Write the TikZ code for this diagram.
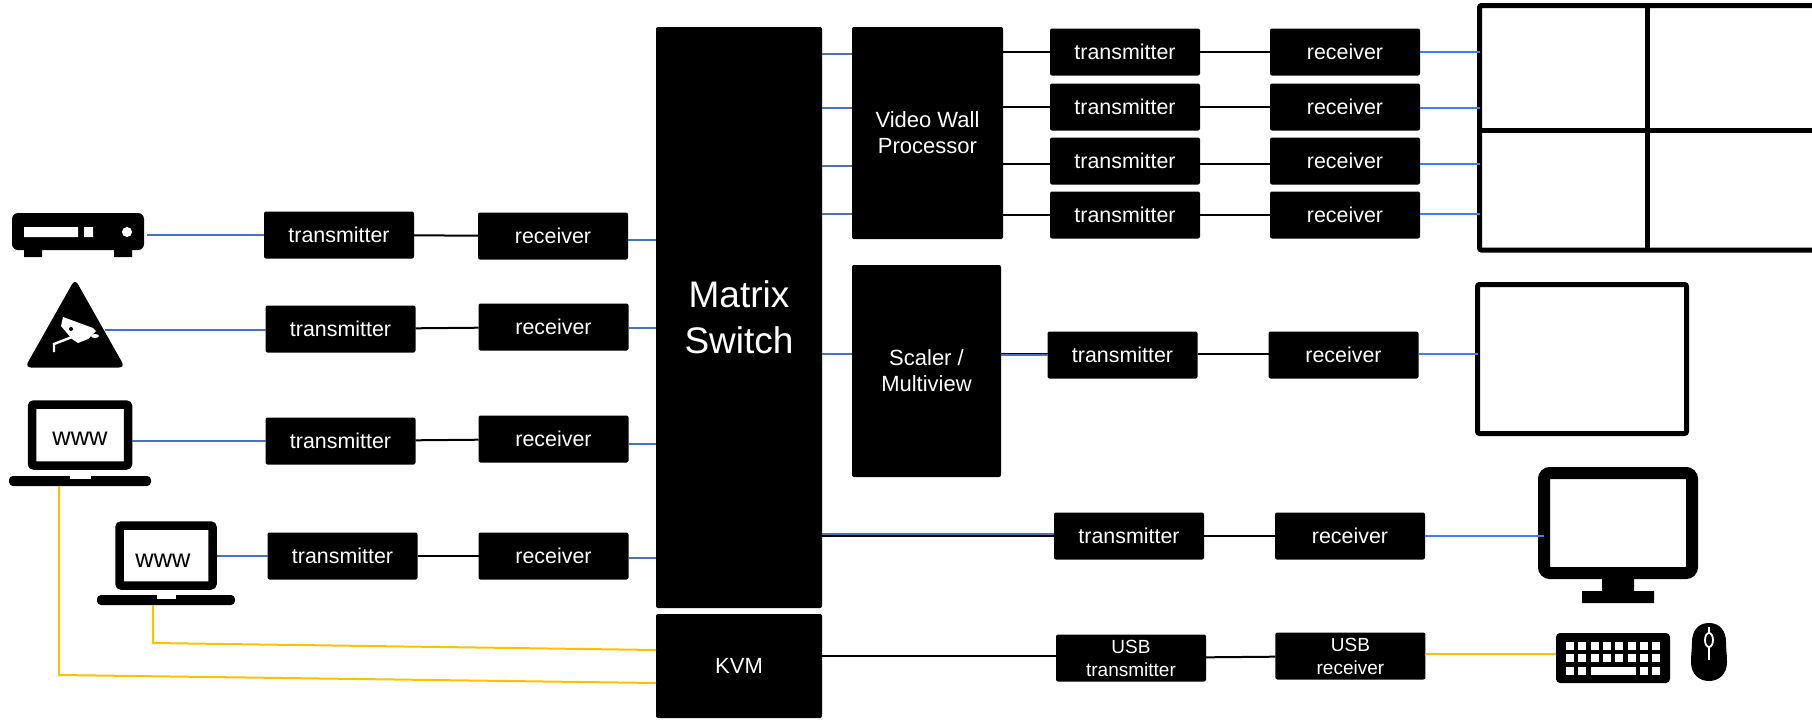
\documentclass[tikz,border=0pt]{standalone}
\usepackage{fontspec}
\setmainfont{Liberation Sans}
\usetikzlibrary{positioning}
\definecolor{videoblue}{HTML}{4472C4}
\definecolor{brightblue}{HTML}{3F7FEF}
\definecolor{usbyellow}{HTML}{FFC000}
\tikzset{
    blackbox/.style={fill=black,text=white,rounded corners=1pt,inner sep=0pt,outer sep=0pt,align=center},
    devbox/.style={blackbox,minimum width=75pt,minimum height=23.5pt,font=\fontsize{10.7}{13}\selectfont},
    usbbox/.style={devbox,font=\fontsize{9.5}{11.5}\selectfont},
    procbox/.style={blackbox,font=\fontsize{11}{13}\selectfont},
    screen/.style={draw=black,fill=white,rounded corners=1pt,inner sep=0pt,outer sep=0pt,line width=2.5pt},
    laptop/.style={screen,line width=4.25pt,outer sep=2.1pt},
    lapbase/.style={fill=black,rounded corners=2pt,inner sep=0pt,outer sep=0pt},
    wwwtext/.style={inner sep=0pt,font=\fontsize{12.7}{14}\selectfont},
    videolink/.style={videoblue,line width=1pt},
    brightlink/.style={brightblue,line width=1pt},
    usblink/.style={usbyellow,line width=1pt},
    blacklink/.style={black,line width=1pt},
    keycap/.style={fill=white,inner sep=0pt,minimum size=4pt}
}
\begin{document}
\begin{tikzpicture}[x=0.5pt,y=-0.5pt]
    \useasboundingbox (0,0) rectangle (1812,719);
    \clip (0,0) rectangle (1812,719);
    \node[blackbox,minimum width=83pt,minimum height=290.5pt,font=\fontsize{18.5}{23}\selectfont] (matrix) at (739,317.5) {Matrix\\Switch};
    \node[procbox,minimum width=83pt,minimum height=52pt] (kvm) at (739,666) {KVM};
    \node[procbox,minimum width=75.5pt,minimum height=106pt] (vw) at (927.5,133) {Video Wall\\Processor};
    \node[procbox,minimum width=74.5pt,minimum height=106pt] (scaler) at (926.5,371) {Scaler /\\Multiview};

    \node[devbox] (txa) at (339,235) {transmitter};
    \node[devbox] (rxa) [right=32pt of txa,yshift=-0.5pt] {receiver};
    \node[devbox] (txb) at (340.5,329) {transmitter};
    \node[devbox] (rxb) [right=31.5pt of txb,yshift=1pt] {receiver};
    \node[devbox] (txc) at (340.5,441) {transmitter};
    \node[devbox] (rxc) [right=31.5pt of txc,yshift=1pt] {receiver};
    \node[devbox] (txd) at (342.5,556) {transmitter};
    \node[devbox] (rxd) [right=30.5pt of txd] {receiver};

    \node[devbox] (txe) at (1125,52) {transmitter};
    \node[devbox] (rxe) [right=35pt of txe] {receiver};
    \node[devbox] (txf) at (1125,107) {transmitter};
    \node[devbox] (rxf) [right=35pt of txf] {receiver};
    \node[devbox] (txg) at (1125,161) {transmitter};
    \node[devbox] (rxg) [right=35pt of txg] {receiver};
    \node[devbox] (txh) at (1125,215) {transmitter};
    \node[devbox] (rxh) [right=35pt of txh] {receiver};
    \node[devbox] (txi) at (1122.5,355) {transmitter};
    \node[devbox] (rxi) [right=35.5pt of txi] {receiver};
    \node[devbox] (txj) at (1129,536) {transmitter};
    \node[devbox] (rxj) [right=35.5pt of txj] {receiver};
    \node[usbbox] (usbtx) at (1131,658) {USB\\transmitter};
    \node[usbbox] (usbrx) [right=34.7pt of usbtx,yshift=1pt] {USB\\receiver};

    \node[blackbox,rounded corners=3pt,minimum width=66pt,minimum height=18.5pt] (dvr) at (78,231.5) {};
    \fill[black] (24,249) rectangle (42,257) (114,249) rectangle (132,257);
    \fill[white] (24,227) rectangle (78,237) (84,227) rectangle (93,237);
    \fill[white] (127,232) circle (5);

    \coordinate (cam) at (105,330);
    \fill[black,rounded corners=3pt] (75,279) -- (125,367.5) -- (25,367.5) -- cycle;
    \fill[white] (63,317) -- (93,328) -- (96,331) -- (88,339) -- (78,343) -- (72,339) -- (61,326) -- cycle;
    \fill[black] (71,329) circle (2);
    \fill[white] (95,336) ellipse (4 and 2);
    \draw[white,line width=1.2pt] (54,352) -- (54,344) -- (72,337);

    \node[laptop,minimum width=48pt,minimum height=30.5pt] (lapa) at (80,435) {};
    \node[wwwtext] (wwwa) at (80,439) {www};
    \node[lapbase,minimum width=71pt,minimum height=5pt] (basea) at (80,481) {};
    \fill[white] (70,475) rectangle (91,479);
    \node[laptop,minimum width=46.5pt,minimum height=30pt] (lapb) at (166,555.5) {};
    \node[wwwtext] (wwwb) at (163,561) {www};
    \node[lapbase,minimum width=69pt,minimum height=5pt] (baseb) at (166,600) {};
    \fill[white] (157,594) rectangle (176,598.5);

    \node[screen,minimum width=175.25pt,minimum height=122.25pt] (wall) at (1654.75,127.75) {};
    \coordinate (wallmid) at (1647,130);
    \draw[black,line width=2.5pt] (wallmid |- wall.north) -- (wallmid |- wall.south);
    \draw[black,line width=2.5pt] (wall.west |- wallmid) -- (wall.east |- wallmid);
    \node[screen,minimum width=104.5pt,minimum height=74.5pt] (single) at (1582,359) {};
    \node[screen,line width=6pt,rounded corners=3pt,minimum width=74pt,minimum height=50pt] (desk) at (1618,523) {};
    \fill[black] (1602,576) rectangle (1634,593) (1582,591) rectangle (1654,603);

    \node[blackbox,rounded corners=2pt,minimum width=57pt,minimum height=25pt] (kb) at (1613,658) {};
    \foreach \i in {0,...,7} {
        \node[keycap] (keya\i) at (1570+12.3*\i,646) {};
        \node[keycap] (keyb\i) at (1570+12.3*\i,658) {};
    }
    \foreach \i in {0,1,6,7} {
        \node[keycap] (keyc\i) at (1570+12.3*\i,670.5) {};
    }
    \node[keycap,minimum width=22.5pt] (space) at (1613.5,670.5) {};

    \fill[black] (1709,623) .. controls (1720,623) and (1726,631) .. (1726,642) .. controls (1726,650) and (1727,654) .. (1727,662) .. controls (1727,674) and (1719,681) .. (1709,681) .. controls (1699,681) and (1691,674) .. (1691,662) .. controls (1691,654) and (1692,650) .. (1692,642) .. controls (1692,631) and (1698,623) .. (1709,623) -- cycle;
    \draw[white,line width=0.7pt] (1709,627) -- (1709,633) (1709,647) -- (1709,660);
    \draw[white,line width=0.9pt] (1709,640) ellipse (4 and 7);

    \draw[videolink] ([xshift=1.5pt]txa.west -| dvr.east) -- (txa.west);
    \draw[videolink] (cam) -- (cam -| txb.west);
    \draw[videolink] (txc.west -| lapa.east) -- (txc.west);
    \draw[videolink] (txd.west -| lapb.east) -- (txd.west);

    \draw[blacklink] (txa) -- (rxa);
    \draw[blacklink] (txb) -- (rxb);
    \draw[blacklink] (txc) -- (rxc);
    \draw[blacklink] (txd) -- (rxd);

    \coordinate (ina) at (656,240);
    \coordinate (inb) at (656,328);
    \coordinate (inc) at (656,444);
    \coordinate (ind) at (656,558);
    \draw[videolink] (ina -| rxa.east) -- (ina);
    \draw[videolink] (inb -| rxb.east) -- (inb);
    \draw[videolink] (inc -| rxc.east) -- (inc);
    \draw[videolink] (ind -| rxd.east) -- (ind);

    \coordinate (outa) at (822,54);
    \coordinate (outb) at (822,108);
    \coordinate (outc) at (822,166);
    \coordinate (outd) at (822,214);
    \coordinate (oute) at (822,354);
    \draw[videolink] (outa) -- (outa -| vw.west);
    \draw[videolink] (outb) -- (outb -| vw.west);
    \draw[videolink] (outc) -- (outc -| vw.west);
    \draw[videolink] (outd) -- (outd -| vw.west);
    \draw[videolink] (oute) -- (oute -| scaler.west);

    \coordinate (vwc) at (1003,164);
    \draw[blacklink] (txe.west -| vw.east) -- (txe.west);
    \draw[blacklink] (txf.west -| vw.east) -- (txf.west);
    \draw[blacklink] (vwc) -- (vwc -| txg.west);
    \draw[blacklink] (txh.west -| vw.east) -- (txh.west);
    \draw[blacklink] (txe) -- (rxe);
    \draw[blacklink] (txf) -- (rxf);
    \draw[blacklink] (vwc -| txg.east) -- (vwc -| rxg.west);
    \draw[blacklink] (txh) -- (rxh);

    \coordinate (wa) at (1479.5,52);
    \coordinate (wb) at (1479.5,108);
    \coordinate (wc) at (1479.5,164);
    \coordinate (wd) at (1479.5,214);
    \coordinate (se) at (1477.5,354);
    \draw[brightlink] (wa -| rxe.east) -- (wa);
    \draw[brightlink] (wb -| rxf.east) -- (wb);
    \draw[brightlink] (wc -| rxg.east) -- (wc);
    \draw[brightlink] (wd -| rxh.east) -- (wd);
    \draw[brightlink] (se -| rxi.east) -- (se);

    \draw[videolink] (scaler.east |- txi) -- (txi.west);
    \draw[black,line width=0.5pt] ([yshift=0.75pt]scaler.east |- txi) -- ([yshift=0.75pt]txi.west);
    \draw[blacklink] (se -| txi.east) -- (se -| rxi.west);

    \draw[blacklink] (matrix.east |- txj) -- (txj.west);
    \draw[videolink] ([yshift=1pt]matrix.east |- txj) -- ([yshift=1pt]txj.west);
    \draw[blacklink] (txj) -- (rxj);
    \draw[brightlink] (rxj.east) -- (rxj.east -| desk.west);

    \coordinate (kvmout) at (822,656);
    \coordinate (kbin) at (1556,654);
    \draw[blacklink] (kvmout) -- (kvmout -| usbtx.west);
    \draw[blacklink] (usbtx) -- (usbrx);
    \draw[usblink] (kbin -| usbrx.east) -- (kbin);

    \coordinate (yela) at (59,675);
    \coordinate (yelb) at (153,643);
    \coordinate (kvma) at (656,683);
    \coordinate (kvmb) at (656,650);
    \draw[usblink] (yela |- basea.south) -- (yela) -- (kvma);
    \draw[usblink] (yelb |- baseb.south) -- (yelb) -- (kvmb);
\end{tikzpicture}
\end{document}
